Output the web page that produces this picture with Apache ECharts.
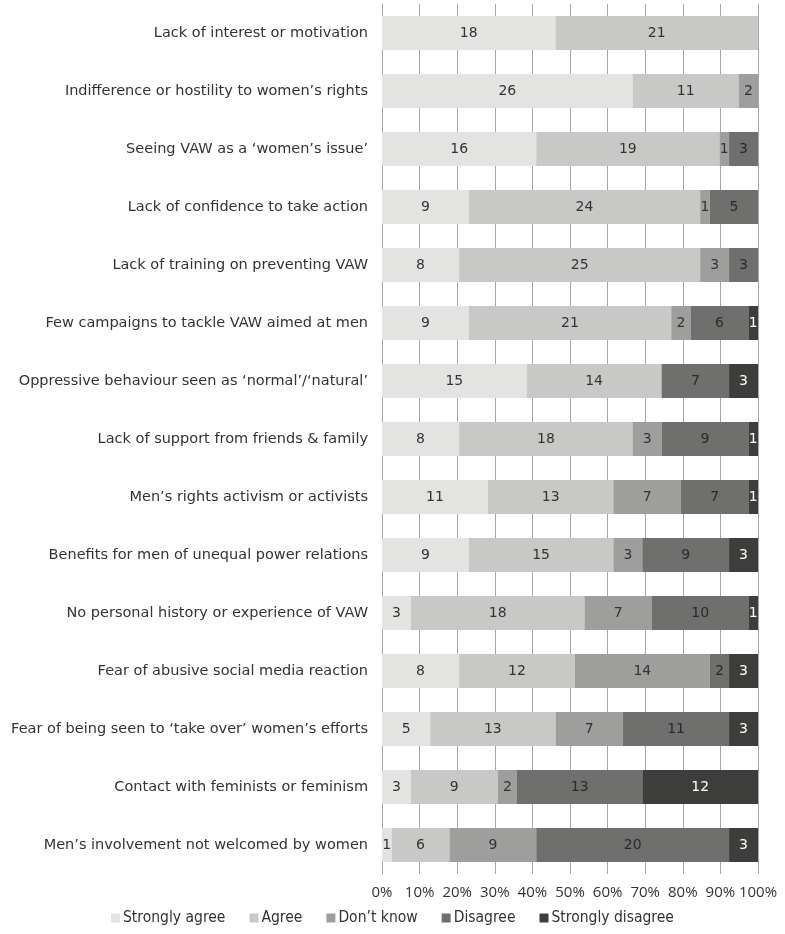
<!DOCTYPE html>
<html>
<head>
<meta charset="utf-8">
<script src="https://cdn.jsdelivr.net/npm/echarts@6/dist/echarts.min.js"></script>
<style>
  html, body { margin: 0; padding: 0; background: #fff; }
  #chart { width: 785px; height: 934px; }
</style>
</head>
<body>
<div id="chart"></div>
<script>
// Barriers to men's involvement in preventing VAW: response counts per statement
const categories = [
  "Lack of interest or motivation",
  "Indifference or hostility to women\u2019s rights",
  "Seeing VAW as a \u2018women\u2019s issue\u2019",
  "Lack of confidence to take action",
  "Lack of training on preventing VAW",
  "Few campaigns to tackle VAW aimed at men",
  "Oppressive behaviour seen as \u2018normal\u2019/\u2018natural\u2019",
  "Lack of support from friends & family",
  "Men\u2019s rights activism or activists",
  "Benefits for men of unequal power relations",
  "No personal history or experience of VAW",
  "Fear of abusive social media reaction",
  "Fear of being seen to \u2018take over\u2019 women\u2019s efforts",
  "Contact with feminists or feminism",
  "Men\u2019s involvement not welcomed by women"
];

const stronglyAgree    = [18, 26, 16,  9,  8,  9, 15,  8, 11,  9,  3,  8,  5,  3,  1];
const agree            = [21, 11, 19, 24, 25, 21, 14, 18, 13, 15, 18, 12, 13,  9,  6];
const dontKnow         = [ 0,  2,  1,  1,  3,  2,  0,  3,  7,  3,  7, 14,  7,  2,  9];
const disagree         = [ 0,  0,  3,  5,  3,  6,  7,  9,  7,  9, 10,  2, 11, 13, 20];
const stronglyDisagree = [ 0,  0,  0,  0,  0,  1,  3,  1,  1,  3,  1,  3,  3, 12,  3];

const seriesDefs = [
  { name: "Strongly agree",    counts: stronglyAgree,    color: "#e3e3e2", text: "#333333" },
  { name: "Agree",             counts: agree,            color: "#c8c8c6", text: "#333333" },
  { name: "Don\u2019t know",   counts: dontKnow,         color: "#9e9e9d", text: "#333333" },
  { name: "Disagree",          counts: disagree,         color: "#6f6f6e", text: "#2a2a2a" },
  { name: "Strongly disagree", counts: stronglyDisagree, color: "#3d3d3b", text: "#ffffff" }
];

// Row totals, so every bar fills 100%
const totals = categories.map((_, i) =>
  seriesDefs.reduce((s, d) => s + d.counts[i], 0));

const FONT = "'DejaVu Sans', 'Open Sans', sans-serif";
const FONT_NARROW = "'DejaVu Sans Condensed', 'DejaVu Sans', sans-serif";
const FONT_AXIS = "'Open Sans', 'Noto Sans', sans-serif";

const chart = echarts.init(document.getElementById("chart"), null, { renderer: "canvas" });

chart.setOption({
  animation: false,
  textStyle: { fontFamily: FONT },
  grid: { left: 382, right: 27, top: 4, bottom: 60, containLabel: false },
  legend: {
    bottom: 3,
    left: 106,
    itemWidth: 9,
    itemHeight: 9,
    itemGap: 24,
    icon: "rect",
    textStyle: { fontFamily: FONT_NARROW, fontSize: 15.5, color: "#333333", padding: [0, 0, 0, -2] },
    data: seriesDefs.map(d => d.name)
  },
  xAxis: {
    type: "value",
    min: 0,
    max: 100,
    interval: 10,
    axisLine: { show: false },
    axisTick: { show: false },
    axisLabel: {
      formatter: "{value}%",
      fontFamily: FONT_AXIS,
      fontSize: 15,
      color: "#333333",
      margin: 11
    },
    splitLine: { show: true, lineStyle: { color: "#a6a6a6", width: 1 } }
  },
  yAxis: {
    type: "category",
    inverse: true,
    data: categories,
    axisLine: { show: true, lineStyle: { color: "#a6a6a6", width: 1 } },
    axisTick: { show: false },
    axisLabel: {
      fontFamily: FONT,
      fontSize: 14.5,
      color: "#333333",
      margin: 14
    }
  },
  series: seriesDefs.map(d => ({
    name: d.name,
    type: "bar",
    stack: "total",
    barWidth: 34,
    itemStyle: { color: d.color },
    label: {
      show: true,
      position: "inside",
      fontFamily: FONT,
      fontSize: 14,
      color: d.text,
      formatter: p => {
        const c = d.counts[p.dataIndex];
        return c ? String(c) : "";
      }
    },
    data: d.counts.map((c, i) => c ? (c / totals[i]) * 100 : null)
  }))
});
</script>
</body>
</html>
